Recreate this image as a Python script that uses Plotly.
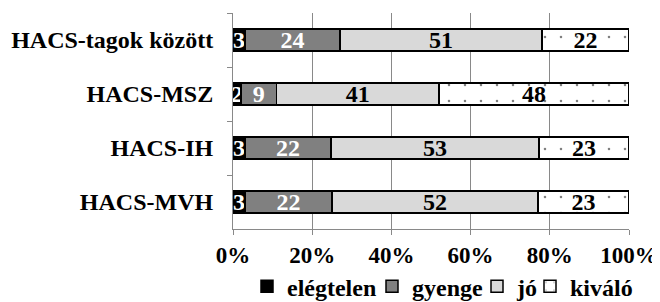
import plotly.graph_objects as go

categories = ["HACS-tagok között", "HACS-MSZ", "HACS-IH", "HACS-MVH"]
elegtelen = [3, 2, 3, 3]
gyenge = [24, 9, 22, 22]
jo = [51, 41, 53, 52]
kivalo = [22, 48, 23, 23]
x_ticks = [0, 20, 40, 60, 80, 100]
x_tick_labels = ["0%", "20%", "40%", "60%", "80%", "100%"]

FONT = "Liberation Serif"

series = [
    ("elégtelen", elegtelen, "#000000", "white", None, "legend"),
    ("gyenge", gyenge, "#808080", "white", None, "legend2"),
    ("jó", jo, "#d9d9d9", "black", None, "legend3"),
    ("kiváló", kivalo, "#ffffff", "black", ".", "legend4"),
]

fig = go.Figure()
for name, vals, color, tcolor, pat, leg in series:
    marker = dict(color=color, line=dict(color="black", width=1.5))
    if pat:
        marker["pattern"] = dict(shape=pat, fgcolor="black", bgcolor="white", size=16, solidity=0.02)
    fig.add_trace(go.Bar(
        name=name, y=categories, x=vals, orientation="h",
        marker=marker, text=[str(v) for v in vals],
        textposition="inside", insidetextanchor="middle",
        textangle=0, constraintext="none",
        textfont=dict(family=FONT, size=24, color=tcolor, weight="bold"),
        hoverinfo="skip", legend=leg,
    ))

legend_common = dict(orientation="h", xref="container", yref="container",
                     xanchor="left", yanchor="middle", y=0.077,
                     bgcolor="rgba(0,0,0,0)",
                     font=dict(family=FONT, size=24, color="black", weight="bold"),
                     itemwidth=30)
legend_left = [239, 364, 469, 522]

fig.update_layout(
    barmode="stack", barnorm="percent", bargap=0.59,
    width=660, height=302,
    margin=dict(l=225, r=39, t=5, b=81, autoexpand=False),
    paper_bgcolor="white", plot_bgcolor="white",
    font=dict(family=FONT, size=22, color="black", weight="bold"),
    showlegend=True,
    legend=dict(legend_common, x=legend_left[0] / 660),
    legend2=dict(legend_common, x=legend_left[1] / 660),
    legend3=dict(legend_common, x=legend_left[2] / 660),
    legend4=dict(legend_common, x=legend_left[3] / 660),
    xaxis=dict(range=[0, 100], tickvals=x_ticks, ticktext=x_tick_labels,
               showgrid=True, gridcolor="#898989", gridwidth=1,
               showline=True, linecolor="#898989", linewidth=1,
               ticks="outside", ticklen=5, tickcolor="#898989",
               zeroline=False, automargin=False,
               tickfont=dict(family=FONT, size=23, weight="bold")),
    yaxis=dict(autorange="reversed", type="category",
               showline=True, linecolor="#898989", linewidth=1,
               ticks="outside", ticklen=5, tickcolor="#898989",
               tickson="boundaries", showgrid=False, automargin=False,
               tickfont=dict(family=FONT, size=24, weight="bold"), ticklabelstandoff=14),
)

fig.write_html("out.html")
